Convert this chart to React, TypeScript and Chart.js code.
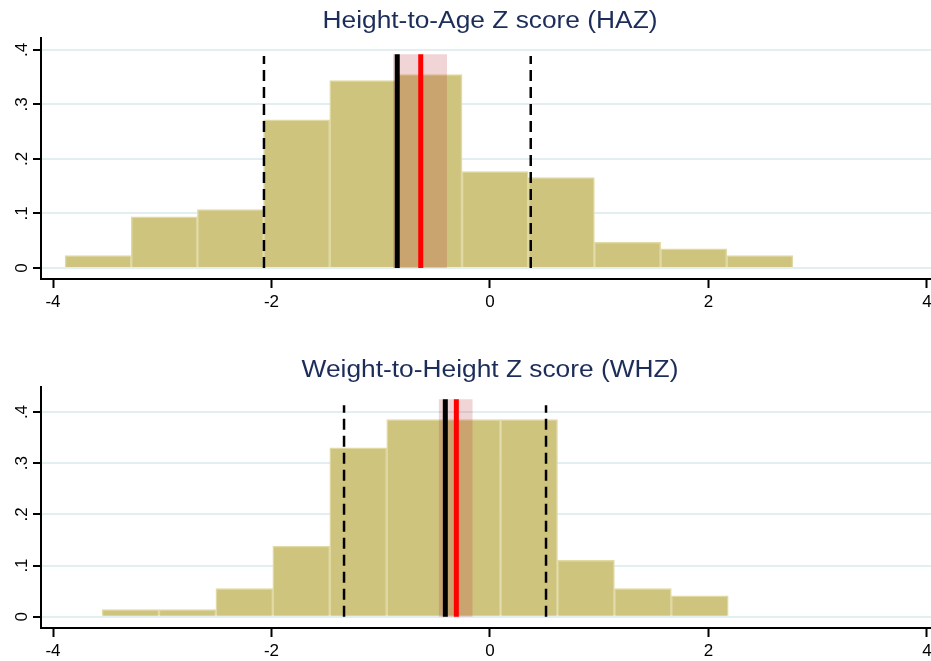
import React, { useEffect, useRef } from 'react';
import { Chart, registerables } from 'chart.js';

Chart.register(...registerables);

// ---------- data ----------
const xTicks = [-4, -2, 0, 2, 4];
const yTicks = [0, 0.1, 0.2, 0.3, 0.4];

const hazTitle = 'Height-to-Age Z score (HAZ)';
const hazBinEdges = [-3.890, -3.284, -2.678, -2.073, -1.467, -0.861, -0.256, 0.350, 0.956, 1.562, 2.167, 2.773];
const hazDensity = [0.023, 0.094, 0.107, 0.272, 0.344, 0.355, 0.177, 0.166, 0.047, 0.035, 0.023];
const hazBlackLine = -0.849;
const hazRedLine = -0.634;
const hazBand = [-0.888, -0.394];
const hazDashed = [-2.069, 0.373];
const hazLineTop = 0.392;
const hazDashTop = 0.389;

const whzTitle = 'Weight-to-Height Z score (WHZ)';
const whzBinEdges = [-3.551, -3.030, -2.509, -1.988, -1.467, -0.945, -0.424, 0.097, 0.618, 1.139, 1.660, 2.181];
const whzDensity = [0.0137, 0.0137, 0.055, 0.138, 0.330, 0.385, 0.385, 0.385, 0.110, 0.055, 0.041];
const whzBlackLine = -0.409;
const whzRedLine = -0.308;
const whzBand = [-0.470, -0.158];
const whzDashed = [-1.336, 0.513];
const whzLineTop = 0.425;
const whzDashTop = 0.413;

// ---------- styling / layout ----------
const FONT = "'Liberation Sans', Arial, Helvetica, sans-serif";
const TITLE_COLOR = '#1c2d5a';
const BAR_FILL = '#cfc47e';
const BAR_EDGE = '#e0d9a4';
const BAND_FILL = 'rgba(180,40,50,0.2)';
const GRID_COLOR = '#e3eef1';

type Panel = {
  title: string;
  edges: number[];
  density: number[];
  black: number;
  red: number;
  band: number[];
  dashed: number[];
  lineTop: number;
  dashTop: number;
  yMin: number;
  yMax: number;
  height: number;
  plotTop: number;
  xAxisHeight: number;
  titleBaseline: number;
};

const panels: Panel[] = [
  {
    title: hazTitle, edges: hazBinEdges, density: hazDensity, black: hazBlackLine, red: hazRedLine,
    band: hazBand, dashed: hazDashed, lineTop: hazLineTop, dashTop: hazDashTop,
    yMin: -0.0202, yMax: 0.422, height: 330, plotTop: 38, xAxisHeight: 51, titleBaseline: 28,
  },
  {
    title: whzTitle, edges: whzBinEdges, density: whzDensity, black: whzBlackLine, red: whzRedLine,
    band: whzBand, dashed: whzDashed, lineTop: whzLineTop, dashTop: whzDashTop,
    yMin: -0.0221, yMax: 0.4483, height: 331, plotTop: 57.3, xAxisHeight: 33, titleBaseline: 47,
  },
];

const titlePlugin = {
  id: 'stataTitle',
  afterDraw(chart: any, _args: any, opts: any) {
    const ctx = chart.ctx;
    ctx.save();
    ctx.font = `${opts.size}px ${FONT}`;
    ctx.fillStyle = opts.color;
    ctx.textAlign = 'center';
    ctx.textBaseline = 'alphabetic';
    ctx.translate(opts.x, opts.baseline);
    ctx.scale(opts.stretch, 1);
    ctx.fillText(opts.text, 0, 0);
    ctx.restore();
  },
};

function makeChart(canvas: HTMLCanvasElement, p: Panel) {
  const bars = p.density.map((d, i) => ({ x: (p.edges[i] + p.edges[i + 1]) / 2, y: d }));
  const vline = (x: number, top: number) => [{ x, y: 0 }, { x, y: top }];
  const lineBase = { type: 'line', pointRadius: 0, fill: false, tension: 0 };
  return new Chart(canvas, {
    type: 'bar',
    data: {
      datasets: [
        { ...lineBase, data: vline(p.red, p.lineTop), borderColor: '#ff0000', borderWidth: 5, order: 0 },
        { ...lineBase, data: vline(p.black, p.lineTop), borderColor: '#000000', borderWidth: 5, order: 0 },
        { ...lineBase, data: vline(p.dashed[0], p.dashTop), borderColor: '#000000', borderWidth: 2.5, borderDash: [11, 6], order: 0 },
        { ...lineBase, data: vline(p.dashed[1], p.dashTop), borderColor: '#000000', borderWidth: 2.5, borderDash: [11, 6], order: 0 },
        {
          ...lineBase,
          data: [{ x: p.band[0], y: p.lineTop }, { x: p.band[1], y: p.lineTop }],
          fill: 'origin', backgroundColor: BAND_FILL, borderColor: 'rgba(0,0,0,0)', borderWidth: 0, order: 1,
        },
        {
          type: 'bar', data: bars, backgroundColor: BAR_FILL, borderColor: BAR_EDGE, borderWidth: 1.5,
          borderSkipped: 'start', categoryPercentage: 1, barPercentage: 1, order: 2,
        },
      ] as any,
    },
    options: {
      responsive: false,
      animation: false,
      events: [],
      layout: { padding: { top: p.plotTop, left: 0, right: 0, bottom: 0 } },
      plugins: {
        legend: { display: false },
        tooltip: { enabled: false },
        title: { display: false },
        stataTitle: { text: p.title, x: 490, baseline: p.titleBaseline, size: 23.5, stretch: 1.12, color: TITLE_COLOR },
      } as any,
      scales: {
        x: {
          type: 'linear',
          min: -4.11,
          max: 4.037,
          offset: false,
          afterBuildTicks: (s: any) => { s.ticks = xTicks.map((v) => ({ value: v })); },
          afterFit: (s: any) => {
            s.height = p.xAxisHeight;
            s.paddingLeft = 0;
            s.paddingRight = 0;
          },
          grid: { display: true, drawOnChartArea: false, drawTicks: true, tickLength: 9, tickColor: '#000', tickWidth: 2, offset: false },
          border: { display: true, color: '#000', width: 2 },
          ticks: {
            color: '#000', font: { family: FONT, size: 17 }, padding: 4, maxRotation: 0, minRotation: 0, autoSkip: false,
            callback: (v: any) => String(v),
          },
        },
        y: {
          type: 'linear',
          min: p.yMin,
          max: p.yMax,
          afterBuildTicks: (s: any) => { s.ticks = yTicks.map((v) => ({ value: v })); },
          afterFit: (s: any) => {
            s.width = 41;
            s.paddingTop = 0;
            s.paddingBottom = 0;
          },
          grid: { color: GRID_COLOR, lineWidth: 2, drawTicks: true, tickLength: 8, tickColor: '#000', tickWidth: 2 },
          border: { display: true, color: '#000', width: 2 },
          ticks: {
            color: '#000', font: { family: FONT, size: 17 }, padding: 4, minRotation: 90, maxRotation: 90,
            crossAlign: 'center', autoSkip: false,
            callback: (v: any) => (Number(v) === 0 ? '0' : Number(v).toFixed(1).replace(/^0\./, '.')),
          },
        },
      } as any,
    },
    plugins: [titlePlugin as any],
  } as any);
}

function PanelChart({ p, top }: { p: Panel; top: number }) {
  const ref = useRef<HTMLCanvasElement | null>(null);
  useEffect(() => {
    if (!ref.current) return;
    const chart = makeChart(ref.current, p);
    return () => chart.destroy();
  }, [p]);
  return (
    <canvas
      ref={ref}
      width={931}
      height={p.height}
      style={{ position: 'absolute', left: 0, top, width: 931, height: p.height, display: 'block' }}
    />
  );
}

export default function App() {
  return (
    <div style={{ position: 'absolute', left: 0, top: 0, width: 931, height: 661, background: '#ffffff', overflow: 'hidden' }}>
      <PanelChart p={panels[0]} top={0} />
      <PanelChart p={panels[1]} top={330} />
    </div>
  );
}
